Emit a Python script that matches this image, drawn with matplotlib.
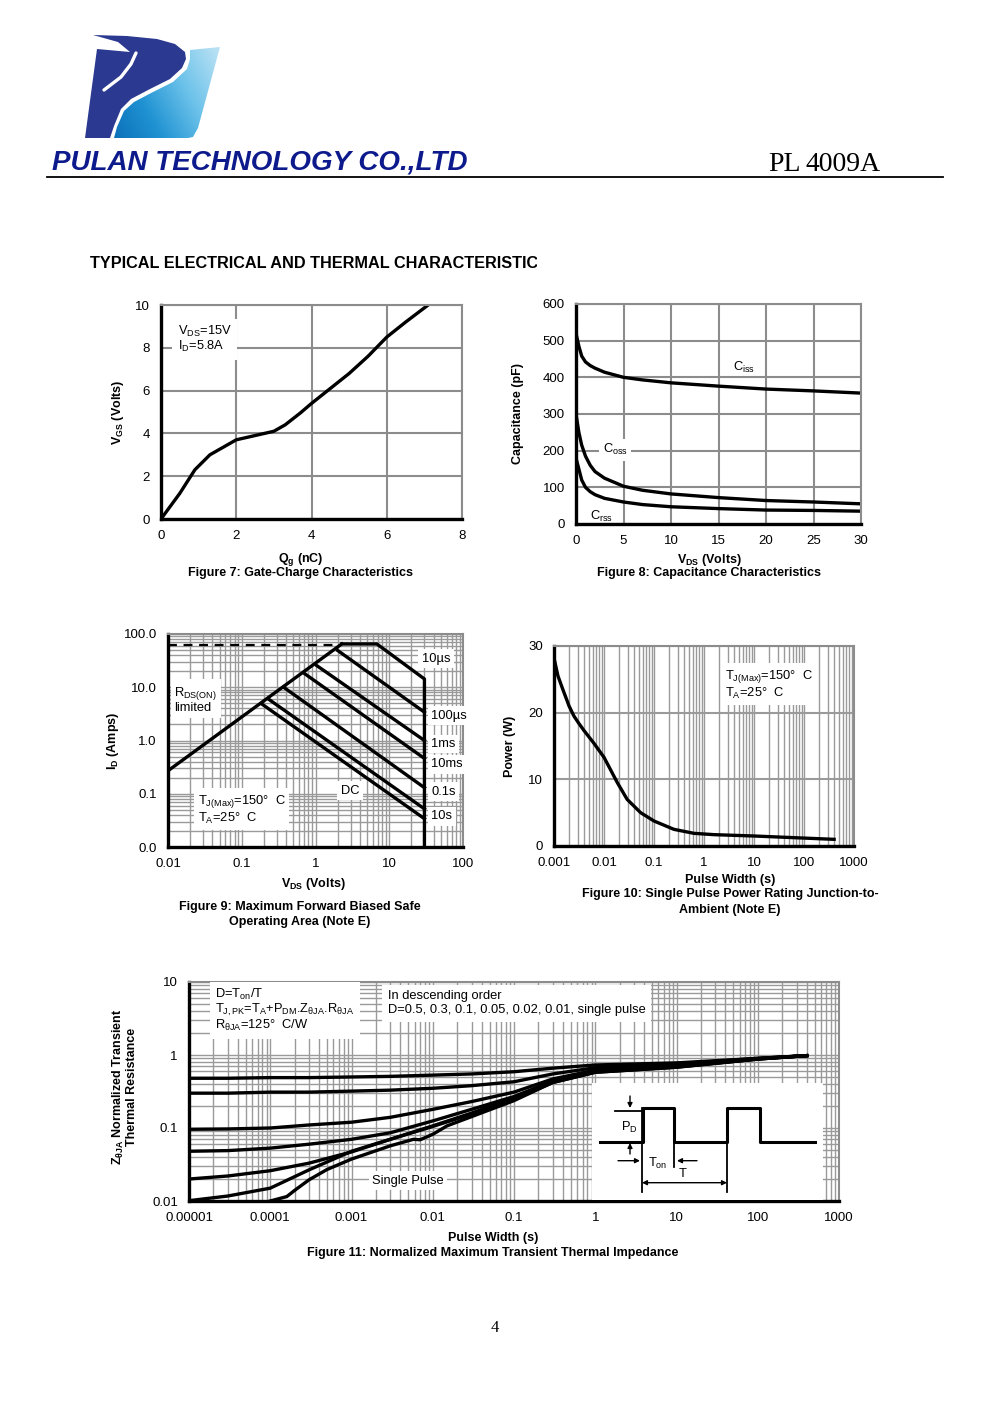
import numpy as np
import matplotlib
matplotlib.use("Agg")
import matplotlib.pyplot as plt
import matplotlib.ticker as mticker
from matplotlib.patches import Polygon
from matplotlib.colors import LinearSegmentedColormap

plt.rcParams["font.family"] = "Liberation Sans"
plt.rcParams["mathtext.fontset"] = "custom"
plt.rcParams["mathtext.rm"] = "Liberation Sans"
plt.rcParams["mathtext.it"] = "Liberation Sans:italic"
plt.rcParams["mathtext.bf"] = "Liberation Sans:bold"

W, H = 991, 1403

# ── Data ──────────────────────────────────────────────────────────────────
# Figure 7: gate charge
qg_nc = [0, 0.5, 0.9, 1.3, 1.6, 2.0, 2.5, 3.0, 3.3, 3.7, 4.0, 4.5, 5.0, 5.5, 6.0, 6.5, 7.1]
vgs_v = [0, 1.2, 2.3, 3.0, 3.3, 3.7, 3.9, 4.1, 4.4, 4.95, 5.4, 6.1, 6.8, 7.6, 8.5, 9.2, 10.0]

# Figure 8: capacitance
vds_cap = [0, 0.3, 0.6, 1, 1.5, 2, 3, 5, 7, 10, 15, 20, 25, 30]
ciss_pf = [520, 485, 458, 442, 432, 425, 414, 400, 393, 385, 376, 368, 363, 357]
coss_pf = [300, 250, 215, 185, 160, 143, 125, 103, 92, 82, 72, 64, 60, 55]
crss_pf = [180, 150, 120, 100, 88, 80, 70, 60, 53, 47, 42, 38, 37, 35]

# Figure 9: safe operating area
rds_v = [0.01, 2.27]
rds_i = [0.27, 65]
dash_v = [0.01, 2.0]
dash_i = [62, 62]
env10us_v = [2.27, 6.8, 30, 30]
env10us_i = [65, 65, 14.3, 0.01]
soa_labels = ["100µs", "1ms", "10ms", "0.1s", "10s", "DC"]
soa_v_start = [2.0, 1.04, 0.72, 0.37, 0.23, 0.185]
soa_i_start = [49, 25.5, 17.8, 10.0, 6.0, 4.9]
soa_v_end = 30
soa_i_end = [3.4, 1.0, 0.46, 0.13, 0.052, 0.034]

# Figure 10: single pulse power
pw_s = [0.001, 0.0012, 0.0015, 0.002, 0.0025, 0.0032, 0.004, 0.0063, 0.01, 0.0136, 0.0185,
        0.029, 0.054, 0.1, 0.25, 0.63, 1.6, 10, 63, 400]
power_w = [28.2, 25.5, 23.5, 21.0, 19.5, 18.3, 17.3, 15.4, 13.3, 11.4, 9.5, 7, 5, 3.75, 2.5,
           1.9, 1.7, 1.5, 1.25, 1.0]

# Figure 11: transient thermal impedance
zt_x = [1e-5, 3e-5, 1e-4, 3e-4, 1e-3, 3e-3, 1e-2, 3e-2, 0.1, 0.3, 1, 10, 100, 400]
z_d050 = [0.48, 0.48, 0.49, 0.49, 0.50, 0.51, 0.53, 0.55, 0.59, 0.66, 0.73, 0.78, 0.90, 0.98]
z_d030 = [0.30, 0.30, 0.31, 0.31, 0.32, 0.33, 0.35, 0.38, 0.43, 0.55, 0.67, 0.75, 0.90, 0.98]
z_d010 = [0.096, 0.097, 0.10, 0.11, 0.12, 0.14, 0.18, 0.23, 0.31, 0.47, 0.62, 0.72, 0.89, 0.98]
z_d005 = [0.048, 0.049, 0.053, 0.06, 0.07, 0.086, 0.125, 0.18, 0.27, 0.44, 0.60, 0.70, 0.89, 0.98]
z_d002 = [0.020, 0.022, 0.026, 0.033, 0.047, 0.07, 0.107, 0.16, 0.26, 0.43, 0.59, 0.69, 0.88, 0.98]
z_d001 = [0.0101, 0.0117, 0.015, 0.0267, 0.048, 0.07, 0.105, 0.155, 0.25, 0.42, 0.58, 0.68, 0.88, 0.98]
sp_x = [1e-4, 1.6e-4, 2e-4, 3e-4, 5e-4, 1e-3, 3e-3, 5.8e-3, 7e-3, 1e-2, 1.5e-2, 0.1, 0.3, 1, 10, 100, 400]
z_single = [0.01, 0.0115, 0.014, 0.0195, 0.027, 0.0375, 0.057, 0.07, 0.069, 0.082, 0.107,
            0.237, 0.42, 0.58, 0.68, 0.88, 0.98]

# ── Figure ────────────────────────────────────────────────────────────────
fig = plt.figure(figsize=(W / 100, H / 100), dpi=100)
bg = fig.add_axes([0, 0, 1, 1])
bg.set_xlim(0, W)
bg.set_ylim(H, 0)
bg.axis("off")


def ax_at(l, t, r, b):
    return fig.add_axes([l / W, 1 - b / H, (r - l) / W, (b - t) / H])


GRID = "#8c8c8c"
TS = 9.5    # tick label size
AS = 9.3    # annotation size
BOX = dict(facecolor="white", edgecolor="none", pad=2.5)


def style(ax):
    for s in ("top", "right"):
        ax.spines[s].set_color(GRID)
        ax.spines[s].set_linewidth(1.5)
    for s in ("left", "bottom"):
        ax.spines[s].set_color("black")
        ax.spines[s].set_linewidth(2.4)
    ax.tick_params(which="both", length=0, labelsize=TS, pad=8)
    ax.set_axisbelow(True)


def log_minor(axis):
    axis.set_minor_locator(mticker.LogLocator(base=10, subs=np.arange(2, 10), numticks=100))
    axis.set_minor_formatter(mticker.NullFormatter())


def bold(x, y, s, **kw):
    bg.text(x, y, s, fontsize=9, fontweight="bold", ha="center", va="center", **kw)


# ── Header ────────────────────────────────────────────────────────────────
logo = ax_at(80, 30, 225, 142)
logo.set_xlim(80, 225)
logo.set_ylim(142, 30)
logo.axis("off")
dark = Polygon([(85, 138), (97, 49), (130, 52), (118, 42), (93, 35), (127, 36), (157, 39),
                (175, 44), (185, 52), (186, 59), (182, 68), (170, 79), (150, 89), (131, 99),
                (121, 109), (114, 126), (110, 138)], closed=True, facecolor="#2b3990",
               edgecolor="none")
logo.add_patch(dark)
logo.plot([136, 131, 121, 104], [53, 64, 77, 90], color="white", lw=2.4, solid_capstyle="round")
light = Polygon([(114, 138), (117, 127), (124, 111), (134, 102), (153, 92), (173, 82),
                 (187, 69), (190, 59), (190, 50), (220, 47), (198, 128), (193, 137),
                 (188, 138)], closed=True, facecolor="none", edgecolor="none")
logo.add_patch(light)
grad = LinearSegmentedColormap.from_list("g", ["#0a6db6", "#1f92d2", "#6cc2ea", "#b8e1f4"])
gx, gy = np.meshgrid(np.linspace(0, 1, 200), np.linspace(0, 1, 120))
im = logo.imshow(0.75 * gx + 0.35 * (1 - gy), cmap=grad, extent=(110, 222, 140, 45),
                 aspect="auto", origin="upper", vmin=0, vmax=1.05)
im.set_clip_path(light)

bg.text(52, 170, "PULAN TECHNOLOGY CO.,LTD", fontsize=20, fontweight="bold", style="italic",
        color="#0d1a8c", va="baseline")
bg.text(768, 171, "PL", fontsize=20, family="Liberation Serif", va="baseline")
bg.text(805, 171, "4009A", fontsize=20, family="Liberation Serif", va="baseline")
bg.plot([47, 943], [177, 177], color="black", lw=1.3)

title = bg.text(90, 264, "TYPICAL ELECTRICAL AND THERMAL CHARACTERISTICS", fontsize=11.7,
                fontweight="bold", va="center")
clip = plt.Rectangle((80, 240), 457, 50, transform=bg.transData, visible=False)
bg.add_patch(clip)
title.set_clip_on(True)
title.set_clip_path(clip)

# ── Figure 7 ──────────────────────────────────────────────────────────────
ax7 = ax_at(161, 305, 462, 519)
style(ax7)
ax7.plot(qg_nc, vgs_v, color="black", lw=2.4)
ax7.set_xlim(0, 8)
ax7.set_ylim(0, 10)
ax7.set_xticks(range(0, 9, 2))
ax7.set_yticks(range(0, 11, 2))
ax7.grid(True, color=GRID, lw=1.5)
ax7.text(0.45, 8.4, "V$_{\\mathrm{DS}}$=15V\nI$_{\\mathrm{D}}$=5.8A", fontsize=AS, va="center",
         linespacing=1.0, bbox=dict(facecolor="white", edgecolor="none", pad=4))
bold(118, 412, "V$_{\\mathbf{GS}}$ (Volts)", rotation=90)
bold(301, 560, "Q$_{\\mathbf{g}}$ (nC)")
bold(301, 573, "Figure 7: Gate-Charge Characteristics")

# ── Figure 8 ──────────────────────────────────────────────────────────────
ax8 = ax_at(576, 304, 861, 524)
style(ax8)
for cap in (ciss_pf, coss_pf, crss_pf):
    ax8.plot(vds_cap, cap, color="black", lw=2.4)
ax8.set_xlim(0, 30)
ax8.set_ylim(0, 600)
ax8.set_xticks(range(0, 31, 5))
ax8.set_yticks(range(0, 601, 100))
ax8.grid(True, color=GRID, lw=1.5)
ax8.text(16.5, 428, "C$_{\\mathrm{iss}}$", fontsize=AS, va="center")
ax8.text(2.8, 202, "C$_{\\mathrm{oss}}$", fontsize=AS, va="center", bbox=BOX)
ax8.text(1.5, 20, "C$_{\\mathrm{rss}}$", fontsize=AS, va="center")
bold(518, 414, "Capacitance (pF)", rotation=90)
bold(709, 560, "V$_{\\mathbf{DS}}$ (Volts)")
bold(709, 573, "Figure 8: Capacitance Characteristics")

# ── Figure 9 ──────────────────────────────────────────────────────────────
ax9 = ax_at(168, 634, 463, 847)
style(ax9)
ax9.set_xscale("log")
ax9.set_yscale("log")
ax9.set_xlim(0.01, 100)
ax9.set_ylim(0.01, 100)
ax9.set_xticks([0.01, 0.1, 1, 10, 100])
ax9.set_xticklabels(["0.01", "0.1", "1", "10", "100"])
ax9.set_yticks([0.01, 0.1, 1, 10, 100])
ax9.set_yticklabels(["0.0", "0.1", "1.0", "10.0", "100.0"])
log_minor(ax9.xaxis)
log_minor(ax9.yaxis)
ax9.grid(True, which="both", color="#9a9a9a", lw=1.0)
ax9.plot(rds_v, rds_i, color="black", lw=2.4)
ax9.plot(dash_v, dash_i, color="black", lw=1.6, ls=(0, (4, 3)))
ax9.plot(env10us_v, env10us_i, color="black", lw=2.4, clip_on=False)
for v0, i0, i1 in zip(soa_v_start, soa_i_start, soa_i_end):
    ax9.plot([v0, soa_v_end], [i0, i1], color="black", lw=2.4)
ax9.text(27.5, 34, "10µs", fontsize=AS, va="center", bbox=BOX)
for lab, yy in zip(soa_labels[:5], [2.9, 0.86, 0.36, 0.108, 0.038]):
    ax9.text(37, yy, lab, fontsize=AS, va="center", bbox=BOX)
ax9.text(2.2, 0.115, "DC", fontsize=AS, va="center", bbox=BOX)
ax9.text(0.0122, 5.8, "R$_{\\mathrm{DS(ON)}}$\nlimited", fontsize=AS, va="center",
         linespacing=1.0, bbox=BOX)
ax9.text(0.0255, 0.05, "T$_{\\mathrm{J(Max)}}$=150°  C\nT$_{\\mathrm{A}}$=25°  C", fontsize=AS,
         va="center", linespacing=1.1, bbox=BOX)
bold(113, 741, "I$_{\\mathbf{D}}$ (Amps)", rotation=90)
bold(313, 884, "V$_{\\mathbf{DS}}$ (Volts)")
bold(300, 907, "Figure 9: Maximum Forward Biased Safe")
bold(300, 922, "Operating Area (Note E)")

# ── Figure 10 ─────────────────────────────────────────────────────────────
ax10 = ax_at(554, 646, 854, 846)
style(ax10)
ax10.set_xscale("log")
ax10.set_xlim(0.001, 1000)
ax10.set_ylim(0, 30)
ax10.set_xticks([0.001, 0.01, 0.1, 1, 10, 100, 1000])
ax10.set_xticklabels(["0.001", "0.01", "0.1", "1", "10", "100", "1000"])
ax10.set_yticks([0, 10, 20, 30])
log_minor(ax10.xaxis)
ax10.grid(True, which="both", axis="x", color="#9a9a9a", lw=1.0)
ax10.grid(True, which="major", axis="y", color="#9a9a9a", lw=1.5)
ax10.plot(pw_s, power_w, color="black", lw=2.4)
ax10.text(2.6, 24.2, "T$_{\\mathrm{J(Max)}}$=150°  C\nT$_{\\mathrm{A}}$=25°  C", fontsize=AS,
          va="center", linespacing=1.1, bbox=BOX)
bold(510, 746, "Power (W)", rotation=90)
bold(730, 880, "Pulse Width (s)")
bold(730, 894, "Figure 10: Single Pulse Power Rating Junction-to-")
bold(730, 910, "Ambient (Note E)")

# ── Figure 11 ─────────────────────────────────────────────────────────────
ax11 = ax_at(189, 982, 839, 1201)
style(ax11)
ax11.set_xscale("log")
ax11.set_yscale("log")
ax11.set_xlim(1e-5, 1000)
ax11.set_ylim(0.01, 10)
ax11.set_xticks([1e-5, 1e-4, 1e-3, 1e-2, 0.1, 1, 10, 100, 1000])
ax11.set_xticklabels(["0.00001", "0.0001", "0.001", "0.01", "0.1", "1", "10", "100", "1000"])
ax11.set_yticks([0.01, 0.1, 1, 10])
ax11.set_yticklabels(["0.01", "0.1", "1", "10"])
log_minor(ax11.xaxis)
log_minor(ax11.yaxis)
ax11.grid(True, which="both", color="#9a9a9a", lw=1.0)
for z in (z_d050, z_d030, z_d010, z_d005, z_d002, z_d001):
    ax11.plot(zt_x, z, color="black", lw=2.4)
ax11.plot(sp_x, z_single, color="black", lw=2.4)
ax11.text(2.1e-5, 4.1, "D=T$_{\\mathrm{on}}$/T\nT$_{\\mathrm{J,PK}}$=T$_{\\mathrm{A}}$+P$_{\\mathrm{DM}}$"
          ".Z$_{\\mathrm{\\theta JA}}$.R$_{\\mathrm{\\theta JA}}$\nR$_{\\mathrm{\\theta JA}}$=125°  C/W",
          fontsize=AS, va="center", linespacing=1.0,
          bbox=dict(facecolor="white", edgecolor="none", pad=4))
ax11.text(2.8e-3, 5.1, "In descending order\nD=0.5, 0.3, 0.1, 0.05, 0.02, 0.01, single pulse",
          fontsize=AS, va="center", linespacing=1.2,
          bbox=dict(facecolor="white", edgecolor="none", pad=4))
ax11.text(1.8e-3, 0.0188, "Single Pulse", fontsize=AS, va="center", bbox=BOX)
bold(124, 1087, "Z$_{\\mathbf{\\theta JA}}$ Normalized Transient\nThermal Resistance",
     rotation=90, linespacing=1.0)
bold(493, 1238, "Pulse Width (s)")
bold(493, 1253, "Figure 11: Normalized Maximum Transient Thermal Impedance")

# pulse-train sketch inside figure 11
ins = ax_at(592, 1083, 823, 1200)
ins.set_xlim(0, 231)
ins.set_ylim(117, 0)
ins.axis("off")
ins.add_patch(plt.Rectangle((0, 0), 231, 117, facecolor="white", edgecolor="none"))
ins.plot([8, 51, 51, 82, 82, 135, 135, 168, 168, 223],
         [58.7, 58.7, 25, 25, 58.7, 58.7, 25, 25, 58.7, 58.7], color="black", lw=2.2)
ins.plot([50, 50], [25, 109], color="black", lw=1.3)
ins.plot([82, 82], [58, 84], color="black", lw=1.3)
ins.plot([135, 135], [58, 109], color="black", lw=1.3)
ins.plot([23, 51], [27.5, 27.5], color="black", lw=1.3)
arr = dict(arrowstyle="-|>", color="black", lw=1.0, mutation_scale=7, shrinkA=0, shrinkB=0)
ins.annotate("", xy=(38, 25), xytext=(38, 13), arrowprops=arr)
ins.annotate("", xy=(38, 60), xytext=(38, 71), arrowprops=arr)
ins.annotate("", xy=(48, 77.7), xytext=(26, 77.7), arrowprops=arr)
ins.annotate("", xy=(85, 77.7), xytext=(105, 77.7), arrowprops=arr)
ins.annotate("", xy=(135, 99.7), xytext=(50, 99.7),
             arrowprops=dict(arrowstyle="<|-|>", color="black", lw=1.0, mutation_scale=7,
                             shrinkA=0, shrinkB=0))
ins.text(29, 44, "P$_{\\mathrm{D}}$", fontsize=AS, va="center")
ins.text(56, 80, "T$_{\\mathrm{on}}$", fontsize=AS, va="center")
ins.text(87, 91, "T", fontsize=AS, va="center")

# page number
bg.text(495, 1328, "4", fontsize=12, family="Liberation Serif", ha="center", va="center")

fig.savefig("out.png", dpi=100)
